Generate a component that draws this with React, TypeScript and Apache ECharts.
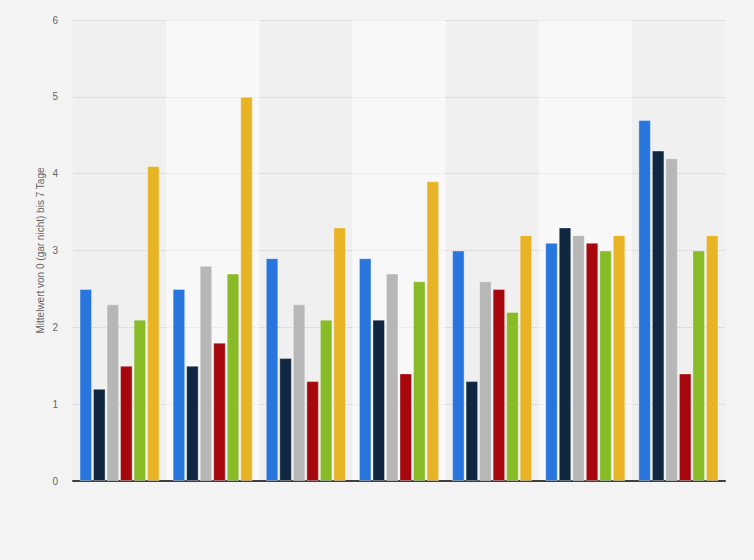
import React, { useEffect, useRef } from "react";
import * as echarts from "echarts";

const categories = ["1", "2", "3", "4", "5", "6", "7"];
const seriesColors = ["#2876dd", "#0f2741", "#b7b7b7", "#a6080e", "#88bb26", "#e8b425"];
const seriesNames = ["Serie 1", "Serie 2", "Serie 3", "Serie 4", "Serie 5", "Serie 6"];
const s1 = [2.5, 2.5, 2.9, 2.9, 3.0, 3.1, 4.7];
const s2 = [1.2, 1.5, 1.6, 2.1, 1.3, 3.3, 4.3];
const s3 = [2.3, 2.8, 2.3, 2.7, 2.6, 3.2, 4.2];
const s4 = [1.5, 1.8, 1.3, 1.4, 2.5, 3.1, 1.4];
const s5 = [2.1, 2.7, 2.1, 2.6, 2.2, 3.0, 3.0];
const s6 = [4.1, 5.0, 3.3, 3.9, 3.2, 3.2, 3.2];
const yTicks = [0, 1, 2, 3, 4, 5, 6];
const yAxisName = "Mittelwert von 0 (gar nicht) bis 7 Tage";

export default function App() {
  const ref = useRef<HTMLDivElement>(null);
  useEffect(() => {
    document.body.style.margin = "0";
    const chart = echarts.init(ref.current!, null, { renderer: "svg" });
    const data = [s1, s2, s3, s4, s5, s6];
    chart.setOption({
      animation: false,
      backgroundColor: "#f3f3f3",
      grid: { left: 73, right: 29, top: 20, bottom: 79 },
      xAxis: {
        type: "category",
        data: categories,
        axisLine: { lineStyle: { color: "#3f3f3f", width: 2 } },
        axisTick: { show: false },
        axisLabel: { show: false },
        splitArea: {
          show: true,
          areaStyle: { color: ["rgba(0,0,0,0.01)", "rgba(255,255,255,0.45)"] },
        },
      },
      yAxis: {
        type: "value",
        min: yTicks[0],
        max: yTicks[yTicks.length - 1],
        interval: 1,
        name: yAxisName,
        nameLocation: "middle",
        nameGap: 28,
        nameMoveOverlap: false,
        nameTextStyle: { color: "#666", fontSize: 10, fontFamily: "Liberation Sans, Arial, sans-serif" },
        axisLine: { show: false },
        axisTick: { show: false },
        axisLabel: { color: "#666", fontSize: 10, margin: 15, fontFamily: "Liberation Sans, Arial, sans-serif" },
        splitLine: { lineStyle: { color: "#cfcfcf", type: [1, 1] } },
      },
      series: data.map((d, i) => ({
        type: "bar",
        name: seriesNames[i],
        data: d,
        barGap: "8%",
        barCategoryGap: "14%",
        itemStyle: {
          color: seriesColors[i],
          borderColor: "rgba(255,255,255,0.35)",
          borderWidth: 1,
        },
      })),
    });
    return () => chart.dispose();
  }, []);
  return <div ref={ref} style={{ width: 754, height: 560 }} />;
}
